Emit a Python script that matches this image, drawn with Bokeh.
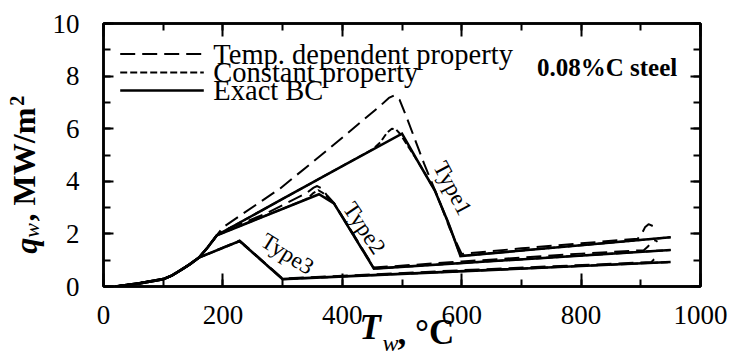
from math import pi, ceil

from bokeh.plotting import figure
from bokeh.models import (Label, LinearAxis, SingleIntervalTicker, FixedTicker,
                          CustomJSTickFormatter, Range1d)
from bokeh.embed import file_html
from bokeh.resources import INLINE

# ---------------------------------------------------------------------------
# Boiling curves: wall heat flux q_w (MW/m^2) vs wall temperature T_w (degC)
# ---------------------------------------------------------------------------
# part shared by every case
t_rise = [20, 60, 100, 115, 130, 145, 160]
q_rise = [0.00, 0.12, 0.28, 0.42, 0.63, 0.85, 1.10]
# steep rise shared by Type1 and Type2
t_steep = [175, 190]
q_steep = [1.50, 1.95]

# Type1
t_type1_exact = [300, 400, 500, 528, 555, 578, 598, 950]
q_type1_exact = [3.33, 4.58, 5.81, 4.70, 3.65, 2.40, 1.16, 1.87]
t_type1_temp = [200, 296, 380, 464, 478, 487, 496, 510, 537, 560, 580, 600,
                700, 800, 895, 902, 907, 913, 920]
q_type1_temp = [2.25, 3.73, 5.28, 6.88, 7.17, 7.27, 7.10, 6.30, 4.67, 3.40, 2.20, 1.24,
                1.45, 1.64, 1.82, 2.02, 2.25, 2.37, 2.30]
t_type1_const = [300, 400, 450, 464, 475, 483, 490, 497, 528, 555, 578, 598, 950]
q_type1_const = [3.33, 4.58, 5.20, 5.49, 5.85, 6.00, 5.97, 5.80, 4.70, 3.65, 2.40, 1.16, 1.87]

# Type2
t_type2_exact = [361, 386, 453, 950]
q_type2_exact = [3.51, 3.16, 0.68, 1.39]
t_type2_temp = [200, 270, 340, 352, 358, 365, 375, 386, 453, 600, 800, 905,
                912, 918, 924, 928]
q_type2_temp = [2.12, 2.75, 3.55, 3.76, 3.82, 3.74, 3.45, 3.18, 0.72, 0.95, 1.25, 1.38,
                1.52, 1.70, 1.76, 1.70]
t_type2_const = [340, 352, 360, 368, 386, 453, 950]
q_type2_const = [3.32, 3.56, 3.66, 3.55, 3.16, 0.68, 1.39]

# Type3
t_type3_exact = [228, 300, 950]
q_type3_exact = [1.73, 0.28, 0.93]
t_type3_temp = [228, 300, 600, 918, 922, 927, 933]
q_type3_temp = [1.75, 0.30, 0.62, 0.93, 1.03, 1.11, 1.08]
t_type3_const = [228, 300, 950]
q_type3_const = [1.72, 0.28, 0.93]

x_ticks_major = 200
y_ticks_major = 2
legend_labels = ["Temp. dependent property", "Constant property", "Exact BC"]

# ---------------------------------------------------------------------------
# layout
# ---------------------------------------------------------------------------
W, H = 729, 358
BL, BR, BT, BB = 103, 29, 23, 71
X0, X1 = 0, 1000
Y0, Y1 = 0, 10
FONT = "Liberation Serif"
ASC, DESC = 0.891, 0.216          # font metrics of the serif face (em)
BOX_FLAT = ASC + DESC             # text box height of horizontal labels (em)
BOX_ROTATED = 1.19                # text box thickness of rotated labels (em)
TICK_FONT = 27
X_STANDOFF, Y_STANDOFF = 19, 24

LONG_DASH = "15 7"
SHORT_DASH = "7 3"

FRAME_LEFT, FRAME_RIGHT = BL, W - BR
FRAME_TOP, FRAME_BOTTOM = BT, H - BB


def data_x(px):
    return X0 + (px - FRAME_LEFT) / (FRAME_RIGHT - FRAME_LEFT) * (X1 - X0)


def data_y(py):
    return Y0 + (FRAME_BOTTOM - py) / (FRAME_BOTTOM - FRAME_TOP) * (Y1 - Y0)


p = figure(width=W, height=H, x_range=Range1d(X0, X1), y_range=Range1d(Y0, Y1),
           output_backend="svg", toolbar_location=None,
           min_border_left=BL, min_border_right=BR,
           min_border_top=BT, min_border_bottom=BB)
p.xgrid.visible = False
p.ygrid.visible = False
p.background_fill_color = "white"
p.border_fill_color = "white"
p.outline_line_color = "black"
p.outline_line_width = 2.5

p.add_layout(LinearAxis(), "above")
p.add_layout(LinearAxis(), "right")


def style_axis(ax, interval, major_in, minor_in, labels, standoff):
    ax.ticker = SingleIntervalTicker(interval=interval, num_minor_ticks=2)
    ax.axis_line_color = "black"
    ax.axis_line_width = 2.5
    ax.major_tick_in = major_in
    ax.major_tick_out = 0
    ax.minor_tick_in = minor_in
    ax.minor_tick_out = 0
    ax.major_tick_line_width = 2
    ax.minor_tick_line_width = 2
    ax.major_tick_line_color = "black"
    ax.minor_tick_line_color = "black"
    ax.major_label_text_font = FONT
    if labels:
        ax.major_label_standoff = standoff
        ax.major_label_text_font_size = f"{TICK_FONT}px"
        ax.major_label_text_color = "black"
    else:
        ax.major_label_standoff = 0
        ax.major_label_text_font_size = "1px"
        ax.major_label_text_color = None


for ax in p.below + p.above:
    style_axis(ax, x_ticks_major, 13, 7, ax in p.below, X_STANDOFF)
for ax in p.left + p.right:
    style_axis(ax, y_ticks_major, 10, 7, ax in p.left, Y_STANDOFF)

# ---------------------------------------------------------------------------
# curves
# ---------------------------------------------------------------------------
series = [
    (t_rise + t_type3_exact, q_rise + q_type3_exact, None),
    (t_rise + t_steep + t_type2_exact, q_rise + q_steep + q_type2_exact, None),
    (t_rise + t_steep + t_type1_exact, q_rise + q_steep + q_type1_exact, None),
    (t_rise + t_type3_const, q_rise + q_type3_const, SHORT_DASH),
    (t_rise + t_steep + t_type2_const, q_rise + q_steep + q_type2_const, SHORT_DASH),
    (t_rise + t_steep + t_type1_const, q_rise + q_steep + q_type1_const, SHORT_DASH),
    (t_rise + t_type3_temp, q_rise + q_type3_temp, LONG_DASH),
    (t_rise + t_steep + t_type2_temp, q_rise + q_steep + q_type2_temp, LONG_DASH),
    (t_rise + t_steep + t_type1_temp, q_rise + q_steep + q_type1_temp, LONG_DASH),
]
for xs, ys, dash in series:
    if dash is None:
        p.line(xs, ys, line_color="black", line_width=2.6, line_join="miter")
    else:
        p.line(xs, ys, line_color="black", line_width=2.0, line_dash=dash,
               line_join="round")

# ---------------------------------------------------------------------------
# legend (drawn inside the frame, upper left)
# ---------------------------------------------------------------------------
legend_x = [28, 168]
legend_rows = [8.84, 8.14, 7.45]
legend_dash = [LONG_DASH, SHORT_DASH, None]
legend_text_x = 184
for row_y, dash, text in zip(legend_rows, legend_dash, legend_labels):
    if dash is None:
        p.line(legend_x, [row_y, row_y], line_color="black", line_width=2.6)
    else:
        p.line(legend_x, [row_y, row_y], line_color="black", line_width=2.0,
               line_dash=dash)
    p.add_layout(Label(x=legend_text_x, y=row_y, text=text, text_font=FONT,
                       text_font_size="28.5px", text_color="black",
                       text_align="left", text_baseline="middle"))

p.add_layout(Label(x=726, y=8.33, text="0.08%C steel", text_font=FONT,
                   text_font_size="25px", text_font_style="bold",
                   text_color="black", text_align="left",
                   text_baseline="alphabetic"))

# curve type annotations
for text, (tx, ty), deg in [("Type3", (308, 1.24), -32),
                            ("Type2", (437, 2.22), -56),
                            ("Type1", (585, 3.74), -62)]:
    p.add_layout(Label(x=tx, y=ty, text=text, text_font=FONT,
                       text_font_size="23px", text_color="black",
                       angle=deg * pi / 180, text_align="center",
                       text_baseline="middle"))

# ---------------------------------------------------------------------------
# axis titles with sub/superscripts: each piece is the single tick label of a
# bare axis stacked in the border, so nothing is clipped by the frame
# ---------------------------------------------------------------------------
def title_axis(side, pos, text, size, style, standoff, orientation):
    ax = LinearAxis(ticker=FixedTicker(ticks=[pos], minor_ticks=[]),
                    formatter=CustomJSTickFormatter(args=dict(label=text),
                                                    code="return label"),
                    axis_line_color=None,
                    major_tick_line_color=None, minor_tick_line_color=None,
                    major_tick_in=0, major_tick_out=0,
                    minor_tick_in=0, minor_tick_out=0,
                    major_label_standoff=standoff,
                    major_label_orientation=orientation,
                    major_label_text_font=FONT,
                    major_label_text_font_size=f"{size}px",
                    major_label_text_font_style=style,
                    major_label_text_color="black")
    p.add_layout(ax, side)


# x title "T_w, °C": (text, size, style, baseline y, left x, advance in em)
x_title = [("T", 35, "bold italic", 348.0, 358.0, 0.667),
           (", °C", 35, "bold", 348.0, 397.0, 1.622),
           ("w", 24, "italic", 353.0, 382.0, 0.667)]
slot = FRAME_BOTTOM + X_STANDOFF + BOX_FLAT * TICK_FONT
for text, size, style, base, left, adv in x_title:
    box = BOX_FLAT * size
    standoff = round(base - ASC * size - slot)
    standoff = max(standoff, ceil(1 - box))
    centre = left + adv * size / 2
    title_axis("below", data_x(centre), text, size, style, standoff, "horizontal")
    slot += standoff + box

# y title "q_w, MW/m²", read upwards: (text, size, style, baseline x, start y, advance)
y_title = [("w", 22, "italic", 42.0, 238.0, 0.667),
           ("2", 20, "bold", 25.0, 105.5, 0.5),
           ("q", 32, "bold italic", 35.0, 254.0, 0.5),
           (", MW/m", 32, "bold", 35.0, 221.5, 3.555)]
slot = FRAME_LEFT - Y_STANDOFF - TICK_FONT * 1.0
for text, size, style, base, start, adv in y_title:
    box = BOX_ROTATED * size
    standoff = round(slot - (base + DESC * size))
    standoff = max(standoff, ceil(1 - box))
    centre = start - adv * size / 2
    title_axis("left", data_y(centre), text, size, style, standoff, "vertical")
    slot -= standoff + box

open("out.html", "w").write(file_html(p, INLINE))
